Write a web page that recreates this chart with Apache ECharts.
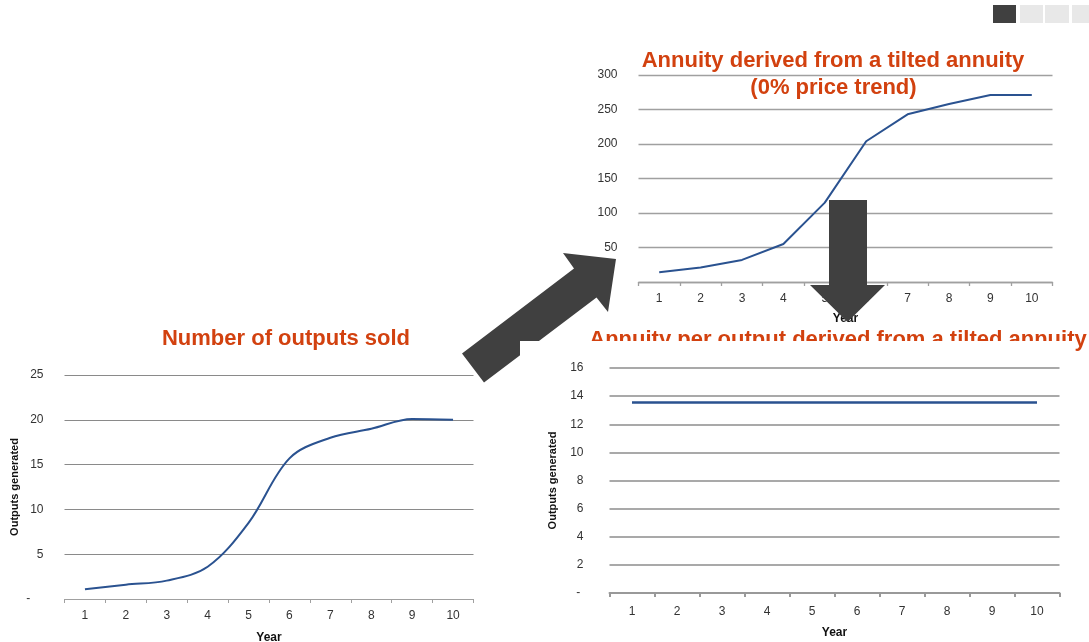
<!DOCTYPE html>
<html>
<head>
<meta charset="utf-8">
<script src="https://cdn.jsdelivr.net/npm/echarts@6/dist/echarts.min.js"></script>
<style>
html,body{margin:0;padding:0;background:#fff;}
#c{width:1089px;height:642px;}
</style>
</head>
<body>
<div id="c"></div>
<script>
// ---- data ----
const years = ['1','2','3','4','5','6','7','8','9','10'];
const outputsSold = [1.1, 1.6, 2.05, 3.6, 8.5, 15.7, 18.0, 19.0, 20.1, 20.0];
const annuityTilted = [14, 21, 32, 55, 115, 204, 243, 258, 271, 271];
const annuityPerOutput = [13.55, 13.55, 13.55, 13.55, 13.55, 13.55, 13.55, 13.55, 13.55, 13.55];
const titleSold = 'Number of outputs sold';
const titleTilted1 = 'Annuity derived from a tilted annuity';
const titleTilted2 = '(0% price trend)';
const titlePerOutput = 'Annuity per output derived from a tilted annuity';
const xName = 'Year';
const yName = 'Outputs generated';

const FONT = '"Liberation Sans", Arial, sans-serif';
const TITLE_COLOR = '#D2410F';
const LINE_COLOR = '#2A5290';

function zeroDash(pad) {
  return function (v) { return v === 0 ? '-' + pad : String(v); };
}

function xAxisOf(gi, nameGap, labelMargin, lineW, lineColor, z) {
  return {
    type: 'category', gridIndex: gi, data: years, boundaryGap: true,
    name: xName, nameLocation: 'middle', nameGap: nameGap,
    nameTextStyle: { fontFamily: FONT, fontWeight: 'bold', fontSize: 12, color: '#111' },
    axisLine: { show: true, lineStyle: { color: lineColor, width: lineW } },
    axisTick: { show: true, length: 4, lineStyle: { color: lineColor, width: lineW } },
    axisLabel: { fontFamily: FONT, fontSize: 12, color: '#333', margin: labelMargin },
    splitLine: { show: false },
    z: z
  };
}

function yAxisOf(gi, max, interval, name, nameGap, margin, pad, gridColor, gridW, z) {
  return {
    type: 'value', gridIndex: gi, min: 0, max: max, interval: interval,
    name: name, nameLocation: 'middle', nameGap: nameGap,
    nameTextStyle: { fontFamily: FONT, fontWeight: 'bold', fontSize: 11, color: '#111' },
    axisLine: { show: false }, axisTick: { show: false },
    axisLabel: { fontFamily: FONT, fontSize: 12, color: '#333', margin: margin, formatter: zeroDash(pad) },
    splitLine: { show: true, lineStyle: { color: gridColor, width: gridW } },
    z: z
  };
}

const chart = echarts.init(document.getElementById('c'), null, { renderer: 'canvas' });

const option = {
  animation: false,
  backgroundColor: '#ffffff',
  grid: [
    { left: 64.5, top: 375, width: 409, height: 224, containLabel: false, outerBoundsMode: 'none' },
    { left: 638.5, top: 75, width: 414, height: 207, containLabel: false, outerBoundsMode: 'none' },
    { left: 609.5, top: 368, width: 450, height: 225, containLabel: false, outerBoundsMode: 'none' }
  ],
  xAxis: [
    xAxisOf(0, 33, 11, 1, '#A0A0A0', 1),
    xAxisOf(1, 31, 11, 1.3, '#A0A0A0', 1),
    xAxisOf(2, 34, 13, 2, '#999999', 110)
  ],
  yAxis: [
    yAxisOf(0, 25, 5, yName, 44, 21, '    ', '#8A8A8A', 1, 0),
    yAxisOf(1, 300, 50, '', 40, 21, '  ', '#A0A0A0', 1.4, 0),
    yAxisOf(2, 16, 2, yName, 51, 26, ' ', '#8C8C8C', 1.6, 109)
  ],
  series: [
    { type: 'line', xAxisIndex: 0, yAxisIndex: 0, data: outputsSold, smooth: 0.35,
      showSymbol: false, lineStyle: { color: LINE_COLOR, width: 2 }, z: 2 },
    { type: 'line', xAxisIndex: 1, yAxisIndex: 1, data: annuityTilted, smooth: false,
      showSymbol: false, lineStyle: { color: LINE_COLOR, width: 2 }, z: 2 },
    { type: 'line', xAxisIndex: 2, yAxisIndex: 2, data: annuityPerOutput, smooth: false,
      showSymbol: false, lineStyle: { color: LINE_COLOR, width: 2.5 }, z: 112 }
  ],
  graphic: [
    // titles
    { type: 'text', z: 50, style: { text: titleSold, x: 286, y: 339, align: 'center', verticalAlign: 'middle',
      fill: TITLE_COLOR, font: 'bold 22px ' + FONT } },
    { type: 'text', z: 50, style: { text: titleTilted1, x: 833, y: 61, align: 'center', verticalAlign: 'middle',
      fill: TITLE_COLOR, font: 'bold 22px ' + FONT } },
    { type: 'text', z: 50, style: { text: titleTilted2, x: 833.5, y: 88, align: 'center', verticalAlign: 'middle',
      fill: TITLE_COLOR, font: 'bold 22px ' + FONT } },
    { type: 'text', z: 50, style: { text: titlePerOutput, x: 838, y: 340, align: 'center', verticalAlign: 'middle',
      fill: TITLE_COLOR, font: 'bold 22px ' + FONT } },
    // diagonal arrow
    { type: 'polygon', z: 60, shape: { points: [[616,259],[563,253],[574,268.5],[462,353.5],[484,382.5],[596.5,297.5],[608,312]] },
      style: { fill: '#404040' } },
    // down arrow
    { type: 'polygon', z: 60, shape: { points: [[829,200],[867,200],[867,285],[885,285],[847.5,322],[810,285],[829,285]] },
      style: { fill: '#404040' } },
    // white background of lower right chart
    { type: 'rect', z: 100, shape: { x: 520, y: 341, width: 555, height: 301 }, style: { fill: '#ffffff' } },
    // navigation boxes
    { type: 'rect', z: 50, shape: { x: 993, y: 5, width: 23, height: 18 }, style: { fill: '#404040' } },
    { type: 'rect', z: 50, shape: { x: 1020, y: 5, width: 23, height: 18 }, style: { fill: '#E8E8E8' } },
    { type: 'rect', z: 50, shape: { x: 1045, y: 5, width: 24, height: 18 }, style: { fill: '#E8E8E8' } },
    { type: 'rect', z: 50, shape: { x: 1072, y: 5, width: 17, height: 18 }, style: { fill: '#E8E8E8' } }
  ]
};

chart.setOption(option);
</script>
</body>
</html>
